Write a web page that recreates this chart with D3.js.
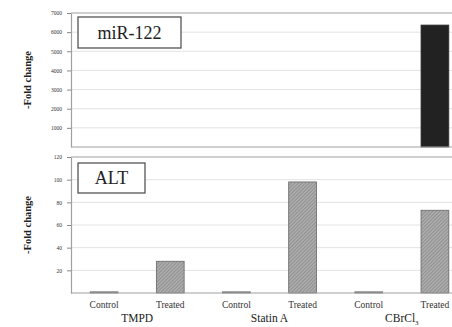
<!DOCTYPE html>
<html>
<head>
<meta charset="utf-8">
<script src="https://cdn.jsdelivr.net/npm/d3@7"></script>
<style>
  html, body { margin: 0; padding: 0; background: #fff; overflow: hidden; }
  svg { display: block; }
  svg text { font-family: "Liberation Serif", "Times New Roman", serif; }
</style>
</head>
<body>
<svg id="chart" width="452" height="327"></svg>
<script>
// Bar categories (control/treated within each treatment group)
const conditions = ["TMPD|Control", "TMPD|Treated", "Statin A|Control", "Statin A|Treated", "CBrCl3|Control", "CBrCl3|Treated"];
const conditionLabels = ["Control", "Treated", "Control", "Treated", "Control", "Treated"];
const groups = ["TMPD", "Statin A", "CBrCl3"];

// Fold change values per panel
const mirValues = [0, 0, 0, 0, 0, 6370];
const altValues = [1, 28, 1, 98, 1, 73];

// Axis ticks
const mirTicks = [1000, 2000, 3000, 4000, 5000, 6000, 7000];
const altTicks = [20, 40, 60, 80, 100, 120];

const svg = d3.select("#chart");

// Diagonal hatch for the ALT bars
const defs = svg.append("defs");
const pat = defs.append("pattern")
  .attr("id", "hatch")
  .attr("patternUnits", "userSpaceOnUse")
  .attr("width", 2.5).attr("height", 2.5)
  .attr("patternTransform", "rotate(45)");
pat.append("rect").attr("width", 2.5).attr("height", 2.5).attr("fill", "#ababab");
pat.append("line").attr("x1", 0).attr("y1", 0).attr("x2", 0).attr("y2", 2.5)
  .attr("stroke", "#7c7c7c").attr("stroke-width", 1);

const left = 71, right = 468;
const x = d3.scaleBand().domain(conditions).range([left, right]).paddingInner(0.58).paddingOuter(0.29);

function panel(opts) {
  const y = d3.scaleLinear().domain([0, opts.max]).range([opts.bottom, opts.top]);
  const g = svg.append("g");

  // gridlines
  g.append("g").selectAll("line").data(opts.ticks.slice(0, -1)).join("line")
    .attr("x1", left).attr("x2", right)
    .attr("y1", d => y(d)).attr("y2", d => y(d))
    .attr("stroke", "#e3e3e3").attr("stroke-width", 1);

  // top frame line
  g.append("line").attr("x1", left).attr("x2", right)
    .attr("y1", y(opts.max)).attr("y2", y(opts.max))
    .attr("stroke", "#a0a0a0").attr("stroke-width", 1.2);

  // bars
  g.append("g").selectAll("rect").data(opts.values).join("rect")
    .attr("x", (d, i) => x(conditions[i]))
    .attr("width", x.bandwidth())
    .attr("y", d => y(d))
    .attr("height", d => y(0) - y(d))
    .attr("fill", opts.fill)
    .attr("stroke", opts.stroke)
    .attr("stroke-width", d => d > 0 ? 0.8 : 0);

  // baseline
  g.append("line").attr("x1", left).attr("x2", right)
    .attr("y1", y(0)).attr("y2", y(0))
    .attr("stroke", "#a0a0a0").attr("stroke-width", 1.2);

  // y axis
  const ax = g.append("g").attr("transform", `translate(${left},0)`)
    .call(d3.axisLeft(y).tickValues(opts.ticks).tickFormat(d3.format("d"))
      .tickSize(4).tickPadding(5).tickSizeOuter(0));
  ax.attr("font-family", null);
  ax.select(".domain").attr("stroke", "#a0a0a0").attr("stroke-width", 1.2);
  ax.selectAll(".tick line").attr("stroke", "#888");
  ax.selectAll(".tick text").style("font-size", "5.5px").attr("fill", "#333");

  // y title
  g.append("text")
    .attr("transform", `translate(31,${(opts.top + opts.bottom) / 2}) rotate(-90)`)
    .attr("text-anchor", "middle")
    .style("font-size", "10.5px").style("font-weight", "bold")
    .attr("fill", "#222")
    .text("-Fold change");

  // panel label box
  g.append("rect").attr("x", opts.box[0]).attr("y", opts.box[1])
    .attr("width", opts.box[2]).attr("height", opts.box[3])
    .attr("fill", "#fff").attr("stroke", "#555").attr("stroke-width", 1.3);
  g.append("text")
    .attr("x", opts.box[0] + opts.box[2] / 2).attr("y", opts.box[1] + opts.box[3] / 2 + 6)
    .attr("text-anchor", "middle")
    .style("font-size", "18px").attr("fill", "#222")
    .text(opts.label);
  return y;
}

panel({ top: 13, bottom: 147, max: 7000, ticks: mirTicks, values: mirValues,
        fill: "#222", stroke: "#333", label: "miR-122", box: [78, 17, 103, 31] });

panel({ top: 157, bottom: 293, max: 120, ticks: altTicks, values: altValues,
        fill: "url(#hatch)", stroke: "#666", label: "ALT", box: [78, 163, 67, 30] });

// condition labels
svg.append("g").selectAll("text").data(conditionLabels).join("text")
  .attr("x", (d, i) => x(conditions[i]) + x.bandwidth() / 2)
  .attr("y", 308)
  .attr("text-anchor", "middle")
  .style("font-size", "9.5px").attr("fill", "#333")
  .text(d => d);

// group labels
const groupText = svg.append("g").selectAll("text").data(groups).join("text")
  .attr("x", (d, i) => (x(conditions[2 * i]) + x(conditions[2 * i + 1]) + x.bandwidth()) / 2)
  .attr("y", 322)
  .attr("text-anchor", "middle")
  .style("font-size", "11.5px").attr("fill", "#222");
groupText.each(function(d) {
  const t = d3.select(this);
  if (d === "CBrCl3") {
    t.append("tspan").text("CBrCl");
    t.append("tspan").attr("dy", 2.5).style("font-size", "7px").text("3");
  } else {
    t.text(d);
  }
});
</script>
</body>
</html>
